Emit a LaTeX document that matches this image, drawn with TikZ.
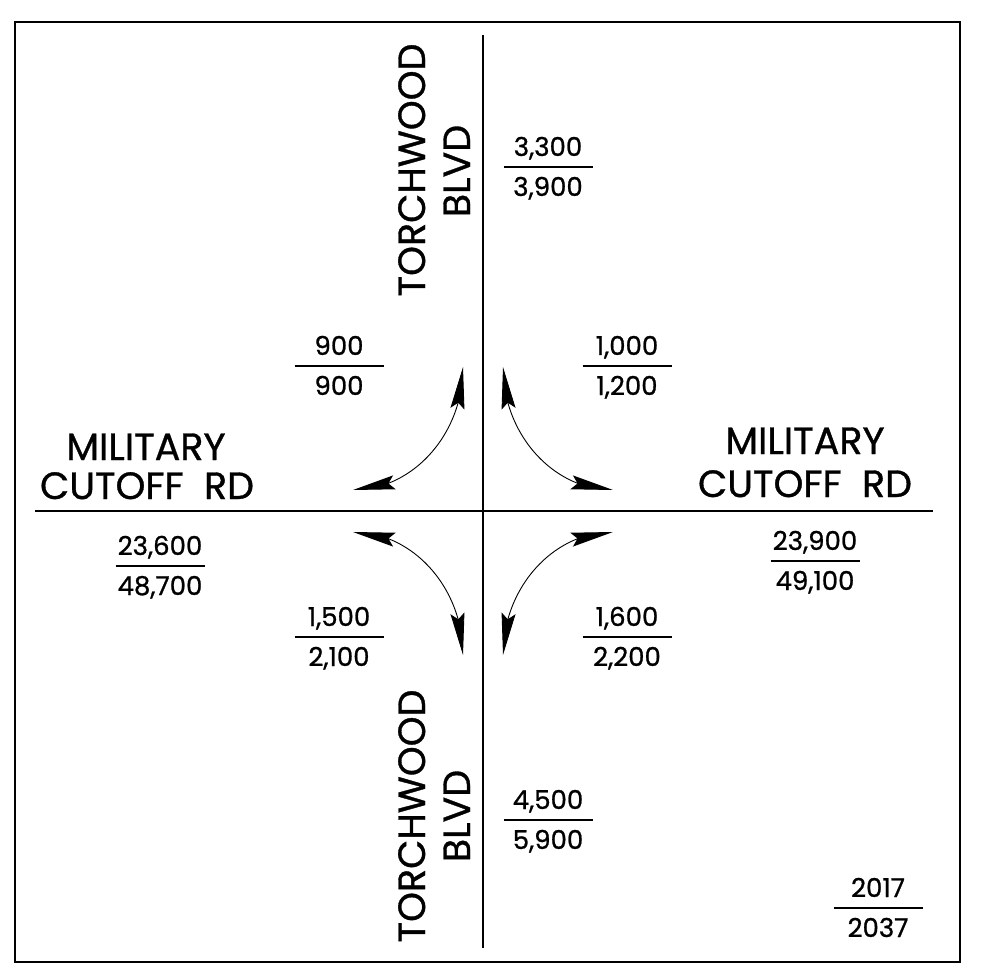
\documentclass[tikz,border=0pt]{standalone}
\usepackage{fontspec}
\setmainfont{Poppins}[UprightFeatures={FakeBold=0.9}]
\usetikzlibrary{arrows.meta,bending}
\begin{document}
\begin{tikzpicture}[x=1pt,y=-1pt,
  road/.style={line width=2pt},
  frm/.style={line width=2pt},
  fracline/.style={line width=1.4pt},
  turn/.style={line width=0.9pt,{Stealth[length=42pt,width=14pt,inset=6pt,flex]}-{Stealth[length=42pt,width=14pt,inset=6pt,flex]}},
  roadlbl/.style={font=\fontsize{38}{44}\selectfont,inner sep=0pt,text height=26pt,text depth=0pt,anchor=center},
  numlbl/.style={font=\fontsize{26}{30}\selectfont,inner sep=0pt,text height=18pt,text depth=0pt,anchor=center}
]
\useasboundingbox (0,0) rectangle (982,973);
\draw[frm] (15,22) rectangle (960,962);
% roads
\coordinate (vt) at (483,35);
\coordinate (vb) at (483,948);
\coordinate (hl) at (35,511);
\coordinate (hr) at (933,511);
\draw[road] (vt) -- (vb);
\draw[road] (hl) -- (hr);
% road labels
\node[roadlbl,rotate=90] (tn1) at (412,170) {TORCHWOOD};
\node[roadlbl,rotate=90] (bn1) at (457,171) {BLVD};
\node[roadlbl,rotate=90] (tn2) at (412,816) {TORCHWOOD};
\node[roadlbl,rotate=90] (bn2) at (457,816) {BLVD};
\node[roadlbl] (ml1) at (146,447) {MILITARY};
\node[roadlbl] (cl1) at (147,486) {CUTOFF\ \ RD};
\node[roadlbl] (ml2) at (805,441) {MILITARY};
\node[roadlbl] (cl2) at (805,484) {CUTOFF\ \ RD};
% fractions
\newcommand{\frc}[5]{%
  \node[numlbl] (#1t) at (#2,#3-20) {#4};
  \node[numlbl] (#1b) at (#2,#3+20) {#5};
  \draw[fracline] (#2-44.5,#3) -- (#2+44.5,#3);}
\frc{a}{548}{167}{3,300}{3,900}
\frc{b}{339}{366}{900}{900}
\frc{c}{627}{366}{1,000}{1,200}
\frc{d}{160}{566}{23,600}{48,700}
\frc{e}{815}{561}{23,900}{49,100}
\frc{f}{339}{637}{1,500}{2,100}
\frc{g}{627}{637}{1,600}{2,200}
\frc{h}{548}{820}{4,500}{5,900}
\frc{k}{878}{908}{2017}{2037}
% turning arrows
\coordinate (ula) at (463,367);
\coordinate (ulb) at (353,490);
\coordinate (ura) at (503,367);
\coordinate (urb) at (613,490);
\coordinate (lla) at (353,532);
\coordinate (llb) at (463,655);
\coordinate (lra) at (613,532);
\coordinate (lrb) at (503,655);
\draw[turn] (ula) .. controls (463,434) and (413,490) .. (ulb);
\draw[turn] (ura) .. controls (503,434) and (553,490) .. (urb);
\draw[turn] (lla) .. controls (413,532) and (463,588) .. (llb);
\draw[turn] (lra) .. controls (553,532) and (503,588) .. (lrb);
\end{tikzpicture}
\end{document}
